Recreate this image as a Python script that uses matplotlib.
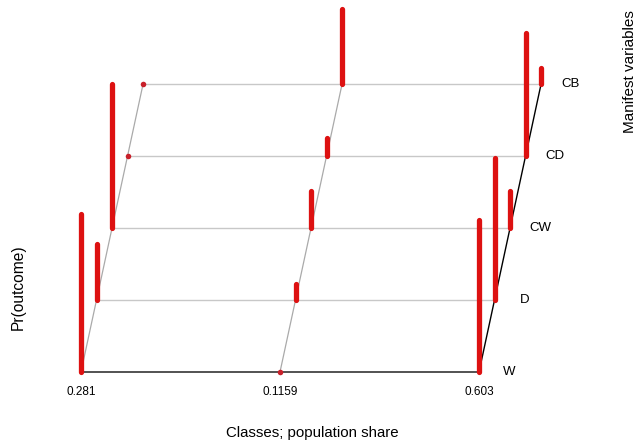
import numpy as np
import matplotlib.pyplot as plt

plt.rcParams['font.family'] = ['Liberation Sans', 'DejaVu Sans']

class_shares = ['0.281', '0.1159', '0.603']
variables = ['W', 'D', 'CW', 'CD', 'CB']
# Pr(outcome) per class (rows) and manifest variable (cols)
probs = np.array([
    [0.99, 0.35, 0.90, 0.00, 0.00],
    [0.00, 0.10, 0.23, 0.11, 0.47],
    [0.95, 0.89, 0.23, 0.77, 0.10],
])

# pseudo-3d projection settings
ROW_SHIFT = 0.078   # x offset per manifest variable
ROW_STEP = 1.0      # y offset per manifest variable
Z_SCALE = 2.22      # height of probability 1.0

def project(ci, vi, p=0.0):
    return ci + vi * ROW_SHIFT, vi * ROW_STEP + p * Z_SCALE

fig = plt.figure(figsize=(6.38, 4.47), dpi=100)
ax = fig.add_axes([0, 0, 1, 1])
ax.set_xlim(-0.407, 2.799)
ax.set_ylim(-1.042, 5.167)
ax.axis('off')

n_cls, n_var = probs.shape

# horizontal lines per variable
for vi in range(n_var):
    x0, y0 = project(0, vi)
    x1, y1 = project(n_cls - 1, vi)
    if vi == 0:
        ax.plot([x0, x1], [y0, y1], color='#444444', lw=1.3, zorder=1)
    else:
        ax.plot([x0, x1], [y0, y1], color='#c8c8c8', lw=1.0, zorder=1)

# diagonal lines per class
for ci in range(n_cls):
    xs, ys = zip(*[project(ci, vi) for vi in range(n_var)])
    if ci == n_cls - 1:
        ax.plot(xs, ys, color='black', lw=1.0, zorder=1)
    else:
        ax.plot(xs, ys, color='#aaaaaa', lw=0.9, zorder=1)

# bars
for ci in range(n_cls):
    for vi in range(n_var):
        xb, yb = project(ci, vi)
        p = probs[ci, vi]
        if p > 0.02:
            xt, yt = project(ci, vi, p)
            ax.plot([xb, xt], [yb, yt], color='#dd1111', lw=3.8,
                    solid_capstyle='round', zorder=3)
        else:
            ax.plot([xb], [yb], 'o', color='#c8202a', ms=4, mec='none', zorder=3)

# class share labels
for ci, lab in enumerate(class_shares):
    x, y = project(ci, 0)
    ax.text(x, y - 0.28, lab, ha='center', va='center', fontsize=8.5)

# variable labels
for vi, lab in enumerate(variables):
    x, y = project(n_cls - 1, vi)
    ax.text(x + 0.15, y, lab, ha='center', va='center', fontsize=9.5)

fig.text(0.49, 0.031, 'Classes; population share', ha='center', va='center', fontsize=10.8)
fig.text(0.028, 0.358, 'Pr(outcome)', ha='center', va='center', rotation=90, fontsize=11.2)
fig.text(0.987, 0.841, 'Manifest variables', ha='center', va='center', rotation=90, fontsize=11)

fig.savefig('out.png', dpi=100)
